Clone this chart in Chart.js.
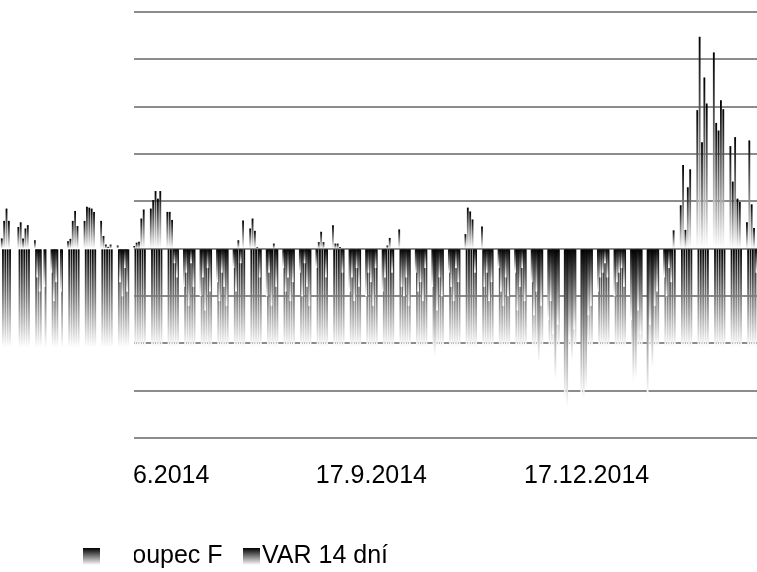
<!DOCTYPE html>
<html lang="cs">
<head>
<meta charset="UTF-8">
<title>Sloupec F / VAR 14 dní</title>
<script src="https://cdn.jsdelivr.net/npm/chart.js"></script>
<style>
  html, body { margin: 0; padding: 0; background: #fff; }
  #wrap { width: 757px; height: 572px; }
</style>
</head>
<body>
<div id="wrap"><canvas id="myChart"></canvas></div>
<script>
// days on the axis (inclusive)
const firstDay = new Date(2014, 3, 13);
const lastDay = new Date(2015, 1, 27);
// weekdays with no value
const holidays = ['18.4.2014', '1.5.2014', '8.5.2014'];
// only these dates get a label
const tickLabels = ['17.6.2014', '17.9.2014', '17.12.2014'];

// Sloupec F - one value per trading day, month by month
const aprF = [0.21, 0.58, 0.84, 0.58, 0.45, 0.55, 0.21, 0.42, 0.49, 0.17, -0.6, -0.9];
const mayF = [-0.8, -0.5, -1.1, -0.7, -0.9, 0.15, 0.2, 0.58, 0.79, 0.47, 0.58, 0.88, 0.86, 0.84, 0.77, 0.58, 0.26, 0.08, 0.03, 0.08];
const junF = [0.06, -0.7, -1.0, -0.4, -0.9, 0.05, 0.12, 0.14, 0.63, 0.82, 0.84, 1.02, 1.21, 1.05, 1.21, 0.77, 0.77, 0.6, -0.3, -0.6, -0.8];
const julF = [-0.5, -1.2, -0.3, -0.8, -1.0, -0.6, -1.3, -0.4, -0.9, -0.7, -1.1, -0.5, -0.8, -1.2, -0.4, -0.9, 0.17, -0.3, 0.59, 0.42, 0.63, 0.37, 0.02];
const augF = [-0.6, -1.0, -0.5, -1.2, 0.1, -0.8, -0.4, -0.9, -0.6, -1.1, -0.7, -0.5, -1.0, -0.3, -0.8, -1.2, -0.4, 0.13, 0.35, 0.13, -0.6];
const sepF = [0.49, 0.1, 0.1, 0.03, -0.5, -0.9, -0.6, -1.1, -0.4, -0.8, -1.0, -0.5, -0.7, -1.2, -0.4, -0.9, -0.6, 0.06, 0.22, -0.5, 0.4, -0.8];
const octF = [-1.0, -0.6, -1.2, -0.5, -0.9, -0.7, -1.1, -0.4, -0.8, -2.27, -1.3, -0.6, -1.0, -0.5, -0.8, -1.1, -0.4, -0.7, 0.3, 0.86, 0.78, 0.61, -0.5];
const novF = [0.46, -0.8, -0.5, -1.1, -0.7, -0.4, -0.9, -1.2, -0.6, -1.0, -0.5, -1.3, -0.8, -0.4, -1.1, -0.7, -1.4, -0.9, -2.41, -1.2];
const decF = [-1.5, -1.1, -1.8, -2.76, -1.6, -3.17, -3.36, -1.9, -2.37, -1.7, -3.11, -3.19, -2.95, -1.4, -1.2, -0.9, -0.6, -0.5, -0.3, -0.6, -1.0, -0.7, -0.5];
const janF = [-0.4, -0.8, -1.5, -2.8, -2.73, -1.3, -1.8, -3.11, -1.6, -2.52, -1.2, -0.9, -0.6, -1.0, -0.4, -0.7, 0.38, 0.91, 1.76, 0.39, 1.29, 1.67];
const febF = [2.92, 4.47, 2.24, 3.61, 3.06, 4.14, 2.65, 2.49, 3.13, 2.94, 2.16, 1.41, 2.35, 1.05, 0.98, 0.55, 2.28, 0.93, 0.43, -0.5];

// VAR 14 dní - same days
const aprVar = [-2.09, -2.09, -2.09, -2.09, -2.09, -2.09, -2.09, -2.09, -2.09, -2.09, -2.09, -2.09];
const mayVar = [-2.09, -2.09, -2.09, -2.09, -2.09, -2.09, -2.09, -2.09, -2.09, -2.09, -2.09, -2.09, -2.09, -2.09, -2.09, -2.09, -2.09, -2.09, -2.09, -2.09];
const junVar = [-2.09, -2.09, -2.09, -2.09, -2.09, -2.09, -2.09, -2.09, -2.09, -2.09, -2.09, -2.09, -2.09, -2.09, -2.09, -2.09, -2.09, -2.09, -2.09, -2.09, -2.09];
const julVar = [-2.09, -2.09, -2.09, -2.09, -2.09, -2.09, -2.09, -2.09, -2.09, -2.09, -2.09, -2.09, -2.09, -2.09, -2.09, -2.09, -2.09, -2.09, -2.09, -2.09, -2.09, -2.09, -2.09];
const augVar = [-2.09, -2.09, -2.09, -2.09, -2.09, -2.09, -2.09, -2.09, -2.09, -2.09, -2.09, -2.09, -2.09, -2.09, -2.09, -2.09, -2.09, -2.09, -2.09, -2.09, -2.09];
const sepVar = [-2.09, -2.09, -2.09, -2.09, -2.09, -2.09, -2.09, -2.09, -2.09, -2.09, -2.09, -2.09, -2.09, -2.09, -2.09, -2.09, -2.09, -2.09, -2.09, -2.09, -2.09, -2.09];
const octVar = [-2.09, -2.09, -2.09, -2.09, -2.09, -2.09, -2.09, -2.09, -2.09, -2.09, -2.09, -2.09, -2.09, -2.09, -2.09, -2.09, -2.09, -2.09, -2.09, -2.09, -2.09, -2.09, -2.09];
const novVar = [-2.09, -2.09, -2.09, -2.09, -2.09, -2.09, -2.09, -2.09, -2.09, -2.09, -2.09, -2.09, -2.09, -2.09, -2.09, -2.09, -2.09, -2.09, -2.09, -2.09];
const decVar = [-2.09, -2.09, -2.09, -2.09, -2.09, -2.09, -2.09, -2.09, -2.09, -2.09, -2.09, -2.09, -2.09, -2.09, -2.09, -2.09, -2.09, -2.09, -2.09, -2.09, -2.09, -2.09, -2.09];
const janVar = [-2.09, -2.09, -2.09, -2.09, -2.09, -2.09, -2.09, -2.09, -2.09, -2.09, -2.09, -2.09, -2.09, -2.09, -2.09, -2.09, -2.09, -2.09, -2.09, -2.09, -2.09, -2.09];
const febVar = [-2.09, -2.09, -2.09, -2.09, -2.09, -2.09, -2.09, -2.09, -2.09, -2.09, -2.09, -2.09, -2.09, -2.09, -2.09, -2.09, -2.09, -2.09, -2.09, -2.09];

// calendar days and the trading days among them
const categories = [];
const tradingIdx = [];
for (let d = new Date(firstDay); d <= lastDay; d.setDate(d.getDate() + 1)) {
    const label = d.getDate() + '.' + (d.getMonth() + 1) + '.' + d.getFullYear();
    const wd = d.getDay();
    if (wd !== 0 && wd !== 6 && !holidays.includes(label)) tradingIdx.push(categories.length);
    categories.push(label);
}

function spread(values) {
    const out = categories.map(() => null);
    values.forEach((v, k) => { if (k < tradingIdx.length) out[tradingIdx[k]] = v; });
    return out;
}

const colF = spread([].concat(aprF, mayF, junF, julF, augF, sepF, octF, novF, decF, janF, febF));
const colVar = spread([].concat(aprVar, mayVar, junVar, julVar, augVar, sepVar, octVar, novVar, decVar, janVar, febVar));

// black at the top of each bar, white at its bottom
function barGradient(c) {
    const chart = c.chart;
    const y = chart.scales.y;
    const v = c.raw;
    if (!y || v == null || !chart.chartArea) return '#000';
    const top = y.getPixelForValue(Math.max(v, 0));
    const bottom = y.getPixelForValue(Math.min(v, 0));
    if (!(bottom > top)) return '#000';
    const g = chart.ctx.createLinearGradient(0, top, 0, bottom);
    g.addColorStop(0, '#000');
    g.addColorStop(1, '#fff');
    return g;
}

const FONT = "'Liberation Sans', Arial, sans-serif";
const clipLeft = 134;

function clipToRight(chart) {
    const ctx = chart.ctx;
    ctx.save();
    ctx.beginPath();
    ctx.rect(clipLeft, 0, chart.width, chart.height);
    ctx.clip();
}

// grid lines are cut off left of clipLeft, the bars are not
const leftClip = {
    id: 'leftClip',
    beforeDraw(chart) {
        clipToRight(chart);
    },
    beforeDatasetsDraw(chart) {
        chart.ctx.restore();
    }
};

const legendItems = [
    { text: 'Sloupec F', boxX: 83, textX: 110 },
    { text: 'VAR 14 dní', boxX: 243, textX: 262 }
];

// date labels under the plot and the legend, drawn by hand
const axisAndLegend = {
    id: 'axisAndLegend',
    afterDraw(chart) {
        const ctx = chart.ctx;
        const xs = chart.scales.x;

        clipToRight(chart);
        ctx.fillStyle = '#000';
        ctx.font = '25px ' + FONT;
        ctx.textBaseline = 'alphabetic';
        ctx.textAlign = 'center';
        tickLabels.forEach(lab => {
            const i = categories.indexOf(lab);
            if (i >= 0) ctx.fillText(lab, xs.getPixelForValue(i), 483);
        });
        ctx.restore();

        const boxTop = 548, boxSize = 17, baseline = 563;
        legendItems.forEach(item => {
            const g = ctx.createLinearGradient(0, boxTop, 0, boxTop + boxSize);
            g.addColorStop(0, '#000');
            g.addColorStop(1, '#fff');
            ctx.fillStyle = g;
            ctx.fillRect(item.boxX, boxTop, boxSize, boxSize);
            clipToRight(chart);
            ctx.fillStyle = '#000';
            ctx.font = '25px ' + FONT;
            ctx.textBaseline = 'alphabetic';
            ctx.textAlign = 'left';
            ctx.fillText(item.text, item.textX, baseline);
            ctx.restore();
        });
    }
};

const ctx = document.getElementById('myChart').getContext('2d');
new Chart(ctx, {
    type: 'bar',
    data: {
        labels: categories,
        datasets: [{
            label: 'Sloupec F',
            data: colF,
            backgroundColor: barGradient,
            borderWidth: 0,
            clip: false
        }, {
            label: 'VAR 14 dní',
            data: colVar,
            backgroundColor: barGradient,
            borderWidth: 0,
            clip: false
        }]
    },
    options: {
        responsive: true,
        maintainAspectRatio: false,
        animation: false,
        categoryPercentage: 1,
        barPercentage: 1,
        layout: { padding: { top: 12, left: 0, right: 0, bottom: 134 } },
        plugins: {
            legend: { display: false },
            tooltip: { enabled: false }
        },
        scales: {
            x: {
                offset: false,
                grid: { display: false, drawTicks: false },
                border: { display: false },
                ticks: { display: false }
            },
            y: {
                min: -4,
                max: 5,
                ticks: { display: false, stepSize: 1 },
                grid: { color: '#8c8c8c', lineWidth: 2, drawTicks: false },
                border: { display: false }
            }
        }
    },
    plugins: [leftClip, axisAndLegend]
});
</script>
</body>
</html>
